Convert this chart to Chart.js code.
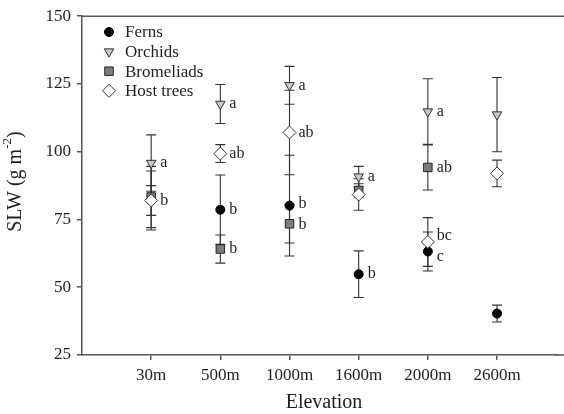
<!DOCTYPE html>
<html>
<head>
<meta charset="utf-8">
<script src="https://cdn.jsdelivr.net/npm/chart.js@4.4.1/dist/chart.umd.min.js"></script>
<style>
  html, body { margin: 0; padding: 0; background: #fff; }
  #wrap { width: 564px; height: 414px; }
</style>
</head>
<body>
<div id="wrap"><canvas id="myChart" width="564" height="414"></canvas></div>
<script>
const elevations = ["30m", "500m", "1000m", "1600m", "2000m", "2600m"];
const yTicks = [25, 50, 75, 100, 125, 150];

const fernsMean = [82.0, 78.6, 80.1, 54.8, 63.2, 40.3];
const fernsErr = [10.9, 12.8, 18.6, 8.6, 7.2, 3.1];
const fernsLetters = ["", "b", "b", "b", "c", ""];

const orchidsMean = [95.8, 117.6, 124.5, 90.8, 114.8, 113.7];
const orchidsErr = [10.4, 7.2, 7.0, 3.8, 12.1, 13.7];
const orchidsLetters = ["a", "a", "a", "a", "a", ""];

const bromMean = [83.3, 64.1, 73.4, 85.7, 94.2, null];
const bromErr = [11.3, 5.2, 7.1, 2.5, 8.3, null];
const bromLetters = ["", "b", "b", "", "ab", ""];

const hostMean = [82.0, 99.3, 107.1, 84.2, 66.7, 92.0];
const hostErr = [5.5, 3.3, 15.6, 5.8, 9.0, 4.9];
const hostLetters = ["b", "ab", "ab", "", "bc", ""];

const serif = '"Liberation Serif", "DejaVu Serif", serif';
const axisColor = "#555";
const textColor = "#1e1e1e";

function toPoints(values) {
  return values.map((v, i) => ({ x: i + 1, y: v }));
}

/* ---------- series ---------- */
const series = [
  { label: "Ferns", mean: fernsMean, err: fernsErr, letters: fernsLetters,
    style: "circle", radius: 4.5, rotation: 0, fill: "#000", border: "#000", order: 4 },
  { label: "Orchids", mean: orchidsMean, err: orchidsErr, letters: orchidsLetters,
    style: "triangle", radius: 5.5, rotation: 180, fill: "#c8c8c8", border: "#333", order: 3 },
  { label: "Bromeliads", mean: bromMean, err: bromErr, letters: bromLetters,
    style: "rect", radius: 6, rotation: 0, fill: "#7c7c7c", border: "#222", order: 2 },
  { label: "Host trees", mean: hostMean, err: hostErr, letters: hostLetters,
    style: "rectRot", radius: 6.5, rotation: 0, fill: "#fff", border: "#333", order: 1 }
];

/* ---------- error bars (drawn under markers) ---------- */
const errorBars = {
  id: "errorBars",
  beforeDatasetsDraw(chart) {
    const c = chart.ctx;
    const xs = chart.scales.x, ys = chart.scales.y;
    c.save();
    c.strokeStyle = "#333";
    c.lineWidth = 1.1;
    series.forEach(s => {
      s.mean.forEach((m, i) => {
        if (m == null || s.err[i] == null) return;
        const px = xs.getPixelForValue(i + 1);
        const top = ys.getPixelForValue(m + s.err[i]);
        const bot = ys.getPixelForValue(m - s.err[i]);
        c.beginPath();
        c.moveTo(px, top); c.lineTo(px, bot);
        c.moveTo(px - 5, top); c.lineTo(px + 5, top);
        c.moveTo(px - 5, bot); c.lineTo(px + 5, bot);
        c.stroke();
      });
    });
    c.restore();
  }
};

/* ---------- significance letters, frame, legend, titles ---------- */
const extras = {
  id: "extras",
  afterDraw(chart) {
    const c = chart.ctx;
    const xs = chart.scales.x, ys = chart.scales.y;
    const area = chart.chartArea;
    c.save();

    // top frame line and bottom axis run off the right edge
    c.strokeStyle = axisColor;
    c.lineWidth = 1.5;
    c.beginPath();
    c.moveTo(area.left, area.top);
    c.lineTo(chart.width, area.top);
    c.moveTo(area.right - 1, area.bottom);
    c.lineTo(chart.width, area.bottom);
    c.stroke();

    // letters, pushed apart when they crowd at one elevation
    c.font = "16px " + serif;
    c.fillStyle = textColor;
    c.textAlign = "left";
    c.textBaseline = "middle";
    elevations.forEach((e, i) => {
      const labs = [];
      series.forEach(s => {
        if (s.letters[i] && s.mean[i] != null) {
          labs.push({ t: s.letters[i], y: ys.getPixelForValue(s.mean[i]) });
        }
      });
      labs.sort((a, b) => a.y - b.y);
      const gap = 21;
      for (let k = 1; k < labs.length; k++) {
        const d = labs[k].y - labs[k - 1].y;
        if (d < gap) {
          const shift = (gap - d) / 2;
          labs[k - 1].y -= shift;
          labs[k].y += shift;
        }
      }
      const px = xs.getPixelForValue(i + 1);
      labs.forEach(l => c.fillText(l.t, px + 9, l.y));
    });

    // legend
    const lx = 109, ly = 32, step = 19.6;
    c.font = "17px " + serif;
    series.forEach((s, k) => {
      const y = ly + k * step;
      c.fillStyle = s.fill;
      c.strokeStyle = s.border;
      c.lineWidth = 1;
      Chart.helpers.drawPoint(c, {
        pointStyle: s.style, radius: s.radius, rotation: s.rotation, borderWidth: 1
      }, lx, y);
      c.fillStyle = textColor;
      c.fillText(s.label, lx + 16, y + 1);
    });

    // x title
    c.textAlign = "center";
    c.font = "20px " + serif;
    c.fillText("Elevation", 324, 403);

    // y title with superscript
    c.translate(16, (area.top + area.bottom) / 2 - 4);
    c.rotate(-Math.PI / 2);
    const main = "SLW (g m", sup = "-2", close = ")";
    c.font = "20px " + serif;
    const w1 = c.measureText(main).width;
    const w3 = c.measureText(close).width;
    c.font = "13px " + serif;
    const w2 = c.measureText(sup).width;
    let x0 = -(w1 + w2 + w3) / 2;
    c.textAlign = "left";
    c.font = "20px " + serif;
    c.fillText(main, x0, 0);
    c.font = "13px " + serif;
    c.fillText(sup, x0 + w1, -8);
    c.font = "20px " + serif;
    c.fillText(close, x0 + w1 + w2, 0);

    c.restore();
  }
};

const ctx = document.getElementById("myChart").getContext("2d");

new Chart(ctx, {
  type: "scatter",
  data: {
    datasets: series.map(s => ({
      label: s.label,
      data: toPoints(s.mean),
      pointStyle: s.style,
      pointRadius: s.radius,
      pointRotation: s.rotation,
      backgroundColor: s.fill,
      borderColor: s.border,
      borderWidth: 1,
      order: s.order
    }))
  },
  options: {
    responsive: false,
    animation: false,
    devicePixelRatio: 1,
    layout: { padding: { top: 15, left: 0, right: 0, bottom: 0 } },
    plugins: {
      legend: { display: false },
      tooltip: { enabled: false }
    },
    scales: {
      x: {
        type: "linear",
        min: 0,
        max: 6.86,
        afterBuildTicks: scale => {
          scale.ticks = elevations.map((e, i) => ({ value: i + 1 }));
        },
        afterFit: scale => { scale.height = 59; },
        ticks: {
          autoSkip: false,
          maxRotation: 0,
          padding: 5,
          color: textColor,
          font: { family: serif, size: 17 },
          callback: v => elevations[v - 1]
        },
        grid: { drawOnChartArea: false, drawTicks: true, tickLength: 5, color: axisColor, lineWidth: 1.5 },
        border: { color: axisColor, width: 1.5 }
      },
      y: {
        min: 25,
        max: 150,
        afterBuildTicks: scale => {
          scale.ticks = yTicks.map(v => ({ value: v }));
        },
        afterFit: scale => { scale.width = 82; },
        ticks: {
          padding: 6,
          color: textColor,
          font: { family: serif, size: 17 }
        },
        grid: { drawOnChartArea: false, drawTicks: true, tickLength: 5, color: axisColor, lineWidth: 1.5 },
        border: { color: axisColor, width: 1.5 }
      }
    }
  },
  plugins: [errorBars, extras]
});
</script>
</body>
</html>
